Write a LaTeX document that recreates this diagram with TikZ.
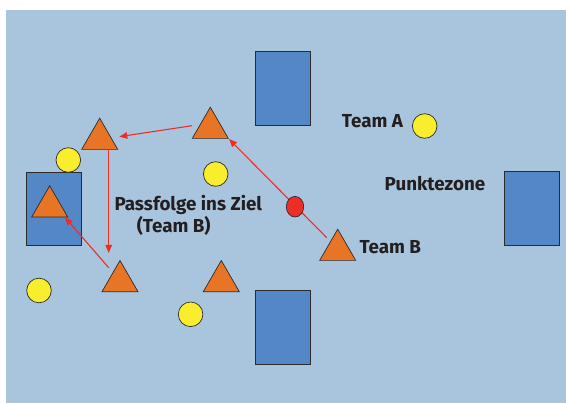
\documentclass[tikz,border=0pt]{standalone}
\usepackage{fontspec}
\setmainfont{Fira Sans}
\usetikzlibrary{shapes.geometric,arrows.meta}
\definecolor{bg}{HTML}{A9C5DD}
\definecolor{boxblue}{HTML}{5487C6}
\definecolor{orng}{HTML}{E87425}
\definecolor{yel}{HTML}{F8EE2D}
\definecolor{redball}{HTML}{EE2E24}
\definecolor{txt}{HTML}{231F20}
\definecolor{edge}{HTML}{2B2B2B}
\tikzset{
  goal/.style={draw=edge, line width=1pt, fill=boxblue, rectangle, inner sep=0pt},
  player/.style={draw=edge, line width=0.7pt, fill=orng, regular polygon, regular polygon sides=3, minimum size=41.6pt, inner sep=0pt},
  opp/.style={draw=edge, line width=0.7pt, fill=yel, circle, minimum size=24.6pt, inner sep=0pt},
  ball/.style={draw=edge, line width=0.7pt, fill=redball, ellipse, minimum width=17.4pt, minimum height=20.6pt, inner sep=0pt},
  pass/.style={draw=redball, line width=1.1pt, -{Triangle[length=8pt,width=6.5pt]}},
  lbl/.style={text=txt, font=\bfseries\fontsize{18.8}{22}\selectfont, inner sep=0pt}
}
\begin{document}
\begin{tikzpicture}[x=1pt,y=-1pt]
\useasboundingbox (0,0) rectangle (566,403);
\fill[bg] (6,10) rectangle (566,403);
% goals
\node[goal, minimum width=54.5pt, minimum height=74pt] (gtop) at (283.2,89) {};
\node[goal, minimum width=55pt, minimum height=73pt] (gleft) at (54.2,208.8) {};
\node[goal, minimum width=55pt, minimum height=73.3pt] (gbot) at (283,327.6) {};
\node[goal, minimum width=55.4pt, minimum height=73.7pt] (gright) at (532,208.8) {};
% opponents (Team A)
\node[opp] (a1) at (68.3,160) {};
\node[opp] (a2) at (215.7,174) {};
\node[opp] (a3) at (39,290.5) {};
\node[opp] (a4) at (190.6,314.3) {};
\node[opp] (a5) at (424.7,126) {};
% players (Team B)
\node[player] (t1) at (99.7,139) {};
\node[player] (t2) at (210.3,128) {};
\node[player] (t3) at (49.7,206.6) {};
\node[player] (t4) at (120,281.3) {};
\node[player] (t5) at (221.3,281.3) {};
\node[player] (t6) at (337.7,250) {};
% pass endpoints
\coordinate (p1s) at (192,125.7);
\coordinate (p1e) at (119.3,136.7);
\coordinate (p2s) at (108.7,149.5);
\coordinate (p2e) at (108.7,253);
\coordinate (p3s) at (108.7,267.7);
\coordinate (p3e) at (65,217.3);
\coordinate (p4s) at (326.7,237.7);
\coordinate (p4e) at (229,139);
\draw[pass] (p1s) -- (p1e);
\draw[pass] (p2s) -- (p2e);
\draw[pass] (p3s) -- (p3e);
\draw[pass] (p4s) -- (p4e);
% ball
\node[ball] (b) at (295,206.7) {};
% labels
\node[lbl] (lA) at (372.5,121) {Team A};
\node[lbl] (lB) at (390.3,247) {Team B};
\node[lbl] (lP) at (435,183.5) {Punktezone};
\node[lbl] (lPass) at (188.3,205.3) {Passfolge ins Ziel};
\node[lbl] (lTB) at (173.7,226.3) {(Team B)};
\end{tikzpicture}
\end{document}
